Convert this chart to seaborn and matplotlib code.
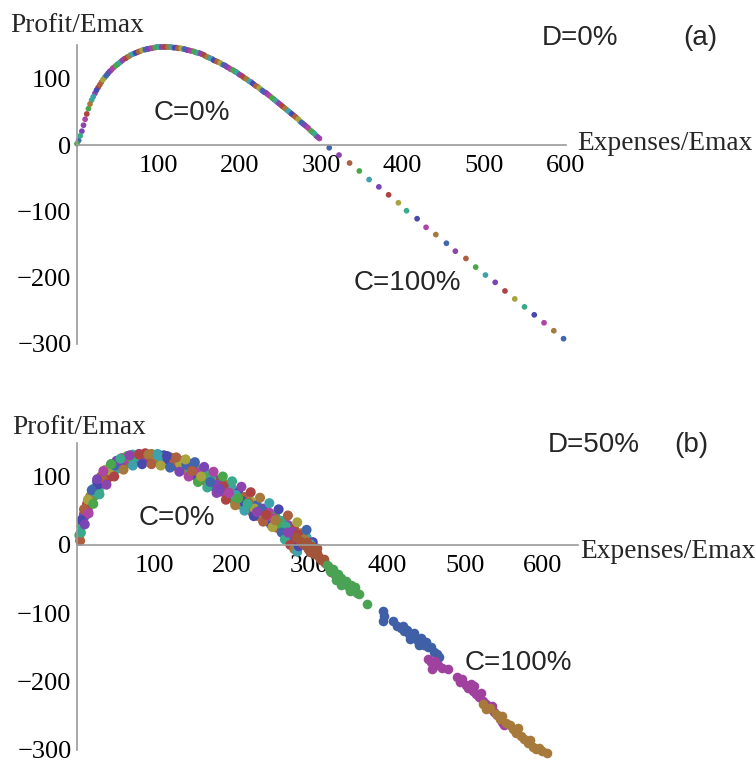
import numpy as np
import pandas as pd
import matplotlib
matplotlib.use('Agg')
import matplotlib.pyplot as plt
import seaborn as sns
from matplotlib.ticker import FixedLocator, MultipleLocator

# ---- panel (a): D=0%, one point per run ----
A_CURVE_X = [2, 6, 10, 14, 18, 22, 26, 30, 34, 38, 42, 46, 50, 54, 58, 62, 66, 70, 74, 78,
             82, 86, 90, 94, 98, 102, 106, 110, 114, 118, 122, 126, 130, 134, 138, 142, 146,
             150, 154, 158, 162, 166, 170, 174, 178, 182, 186, 190, 194, 198, 202, 206, 210,
             214, 218, 222, 226, 230, 234, 238, 242, 246, 250, 254, 258, 262, 266, 270, 274,
             278, 282, 286, 290, 294, 298,
             0, 4, 8, 12, 16, 20, 24, 28, 32, 36, 40, 44, 48, 52, 56, 60, 64, 68, 72, 76, 80,
             84, 88, 92, 96, 100, 104, 108, 112, 116, 120, 124, 128, 132, 136, 140, 144, 148,
             152, 156, 160, 164, 168, 172, 176, 180, 184, 188, 192, 196, 200, 204, 208, 212,
             216, 220, 224, 228, 232, 236, 240, 244, 248, 252, 256, 260, 264, 268, 272, 276,
             280, 284, 288, 292, 296]
A_CURVE_Y = [7, 21, 39, 55, 68, 78, 87, 95, 102, 108, 113, 118, 122, 126, 130, 133, 136, 138,
             140, 142, 144, 145, 146, 147, 148, 148, 148, 148, 148, 147, 147, 146, 145, 144,
             143, 142, 140, 139, 137, 134, 132, 130, 127, 125, 122, 120, 117, 114, 111, 108,
             105, 101, 98, 95, 91, 88, 84, 80, 77, 73, 69, 65, 61, 57, 53, 49, 45, 41, 36, 32,
             28, 23, 19, 14, 10,
             2, 14, 30, 47, 62, 73, 83, 91, 99, 105, 111, 116, 120, 124, 128, 131, 134, 137,
             139, 141, 143, 144, 145, 146, 147, 148, 148, 148, 148, 148, 147, 146, 146, 145,
             143, 142, 141, 139, 138, 136, 133, 131, 128, 126, 124, 121, 118, 115, 113, 110,
             106, 103, 100, 96, 93, 89, 86, 82, 79, 75, 71, 67, 63, 59, 55, 51, 47, 43, 39, 34,
             30, 26, 21, 17, 12]
A_TAIL_X = [310, 322, 335, 347, 359, 371, 383, 395, 405, 418, 429, 441, 454, 465, 478, 490,
            502, 514, 526, 538, 550, 562, 574, 586, 598]
A_TAIL_Y = [-4, -15, -27, -39, -52, -63, -75, -87, -99, -111, -124, -135, -148, -160, -171,
            -184, -196, -207, -220, -232, -244, -256, -268, -280, -292]

# ---- panel (b): D=50%, mixed cloud near the hump ----
B_MIX_X = [3, 6, 9, 13, 17, 21, 26, 31, 37, 44, 51, 58, 65, 72, 80, 88, 96, 104, 112, 120,
           128, 136, 144, 152, 160, 168, 176, 184, 192, 200, 208, 216, 224, 232, 240, 248,
           256, 264, 272, 280, 288, 296, 304,
           4, 7, 10, 14, 18, 23, 28, 34, 40, 47, 54, 61, 68, 75, 82, 90, 98, 106, 114, 122,
           130, 138, 146, 154, 162, 170, 178, 186, 194, 202, 210, 218, 226, 234, 242, 250,
           258, 266, 274, 282, 290, 298,
           5, 8, 12, 16, 22, 27, 33, 42, 49, 56, 63, 70, 78, 86, 94, 102, 109, 117, 125, 133,
           141, 149, 157, 165, 173, 181, 189, 197, 205, 213, 221, 229, 237, 245, 253, 261,
           269, 277, 285, 293, 301,
           6, 9, 14, 19, 26, 34, 44, 56, 68, 80, 92, 104, 116, 128, 140, 152, 164, 176, 188,
           200, 212, 224, 236, 248, 260, 272, 284, 296,
           10, 15, 21, 29, 38, 48, 60, 72, 84, 96, 108, 120, 132, 144, 156, 168, 180, 192,
           204, 216, 228, 240, 252, 264, 276, 288, 300,
           268, 272, 275, 280, 284, 286,
           148, 160, 172, 184, 196, 208, 220, 232, 244, 256]
B_MIX_Y = [14, 28, 45, 60, 71, 82, 92, 100, 110, 118, 123, 127, 130, 132, 133, 134, 133, 133,
           131, 128, 126, 123, 119, 115, 110, 104, 98, 93, 88, 82, 76, 70, 64, 58, 53, 47, 41,
           35, 29, 23, 17, 11, 4,
           6, 34, 42, 50, 62, 72, 80, 90, 98, 106, 112, 117, 120, 122, 123, 124, 123, 122, 120,
           118, 114, 110, 106, 100, 95, 89, 84, 78, 72, 66, 59, 54, 48, 42, 37, 30, 25, 19, 13,
           8, 2, -4,
           18, 40, 54, 66, 78, 88, 97, 109, 116, 122, 126, 128, 129, 128, 129, 128, 128, 125,
           124, 118, 117, 110, 106, 98, 96, 88, 86, 76, 73, 64, 62, 53, 51, 42, 39, 31, 27, 19,
           15, 8, 1,
           36, 52, 66, 80, 96, 108, 118, 126, 131, 132, 132, 131, 130, 128, 125, 121, 114, 107,
           100, 93, 85, 77, 69, 61, 52, 43, 33, 22,
           30, 46, 60, 74, 88, 100, 110, 116, 118, 118, 116, 113, 107, 100, 92, 84, 76, 66,
           58, 50, 42, 34, 26, 18, 10, 2, -8,
           8, 18, 0, -6, -10, -2,
           108, 100, 92, 82, 76, 68, 60, 48, 44, 36]

# ---- panel (b): clusters past break-even ----
B_BROWN_X = [282, 288, 292, 295, 298, 300, 304, 306, 309, 312, 315, 318, 320, 323, 326, 328,
             310, 302, 296]
B_BROWN_Y = [12, 6, 2, -2, -6, -10, -8, -14, -12, -18, -22, -20, -27, -31, -35, -40, -5, -2, 4]
B_GREEN_X = [322, 326, 330, 333, 336, 338, 341, 344, 347, 350, 353, 356, 358, 361, 352, 340,
             334, 364, 374]
B_GREEN_Y = [-30, -38, -36, -44, -42, -50, -48, -55, -53, -60, -58, -66, -62, -70, -68, -58,
             -52, -72, -87]
B_BLUE_X = [394, 396, 395, 408, 412, 418, 422, 426, 428, 432, 435, 438, 440, 443, 445, 448,
            450, 452, 456, 460, 464, 467, 430, 420, 441]
B_BLUE_Y = [-97, -104, -111, -112, -118, -122, -126, -124, -131, -133, -129, -137, -140, -136,
            -143, -146, -142, -150, -150, -156, -160, -164, -138, -119, -147]
B_MAGENTA_X = [452, 456, 461, 466, 458, 471, 479, 490, 494, 497, 501, 504, 508, 511, 514, 518,
               521, 524, 528, 531, 535, 538, 541, 545, 548, 550, 512]
B_MAGENTA_Y = [-167, -172, -170, -176, -182, -180, -181, -193, -200, -196, -205, -209, -204,
               -214, -218, -222, -217, -228, -233, -239, -236, -244, -249, -253, -259, -264,
               -207]
B_OCHRE_X = [524, 528, 533, 540, 545, 548, 553, 558, 562, 566, 569, 573, 577, 581, 584, 588,
             592, 596, 600, 606]
B_OCHRE_Y = [-232, -240, -238, -248, -255, -250, -260, -264, -270, -275, -268, -280, -284,
             -290, -286, -295, -299, -297, -302, -304]

X_TICKS = [100, 200, 300, 400, 500, 600]
Y_TICKS = [-300, -200, -100, 0, 100]

CYCLE = ['#4266ad', '#8b45ad', '#ad5f3f', '#4aa64a', '#3ea2ad', '#7a45b5', '#ad4343',
         '#a8a23f', '#3aa98c', '#4848ad', '#ad45a5', '#a67a3c']

W, H = 756, 762
SERIF = ['Liberation Serif', 'DejaVu Serif']
SANS = ['Liberation Sans', 'DejaVu Sans']

sns.set_theme(style='white')
plt.rcParams['font.family'] = SERIF


def fx(px):
    return px / W


def fy(py):
    return 1 - py / H


def style_axis(ax, xmax, ymax):
    ax.set_xlim(0, xmax)
    ax.set_ylim(-300, ymax)
    for s in ['top', 'right']:
        ax.spines[s].set_visible(False)
    ax.spines['bottom'].set_position(('data', 0))
    for s in ['bottom', 'left']:
        ax.spines[s].set_color('#9a9a9a')
        ax.spines[s].set_linewidth(1.2)
    ax.xaxis.set_major_locator(FixedLocator(X_TICKS))
    ax.yaxis.set_major_locator(FixedLocator(Y_TICKS))
    ax.xaxis.set_minor_locator(MultipleLocator(20))
    ax.yaxis.set_minor_locator(MultipleLocator(20))
    ax.tick_params(which='both', direction='in', color='#8a8a8a',
                   labelcolor='black', labelsize=19)
    ax.tick_params(which='major', length=5, width=1)
    ax.tick_params(which='minor', length=3, width=0.8)
    ax.tick_params(axis='x', pad=7)
    ax.tick_params(axis='y', pad=4)
    ax.set_xlabel('')
    ax.set_ylabel('')
    ax.patch.set_alpha(0)


def cycle_df(xs, ys, start=0, step=1):
    return pd.DataFrame({'x': xs, 'y': ys,
                         'c': [(i * step + start) % len(CYCLE) for i in range(len(xs))]})


fig = plt.figure(figsize=(W / 100, H / 100), dpi=100)

# panel (a)
ax1 = fig.add_axes([fx(77), fy(344), fx(566) - fx(77), fy(45) - fy(344)])
df_a = pd.concat([cycle_df(A_CURVE_X, A_CURVE_Y, step=5), cycle_df(A_TAIL_X, A_TAIL_Y)],
                 ignore_index=True)
sns.scatterplot(data=df_a, x='x', y='y', hue='c', palette=dict(enumerate(CYCLE)),
                s=17, linewidth=0, legend=False, ax=ax1)
style_axis(ax1, 601, 151)

# panel (b)
ax2 = fig.add_axes([fx(77), fy(750), fx(578) - fx(77), fy(443) - fy(750)])
df_b = cycle_df(B_MIX_X, B_MIX_Y, start=3, step=5)
sns.scatterplot(data=df_b, x='x', y='y', hue='c', palette=dict(enumerate(CYCLE)),
                s=52, linewidth=0, legend=False, ax=ax2)
clusters = [(B_BROWN_X, B_BROWN_Y, '#a3553a'), (B_GREEN_X, B_GREEN_Y, '#4aa354'),
            (B_BLUE_X, B_BLUE_Y, '#3f5fa6'), (B_MAGENTA_X, B_MAGENTA_Y, '#a0409f'),
            (B_OCHRE_X, B_OCHRE_Y, '#a7793a')]
for cx, cy, col in clusters:
    sns.scatterplot(x=cx, y=cy, color=col, s=48, linewidth=0, legend=False, ax=ax2)
style_axis(ax2, 646, 149)

for ax in (ax1, ax2):
    for c in ax.collections:
        c.set_clip_on(False)

# axis titles (serif) and annotations (sans)
fig.text(fx(10), fy(32), 'Profit/Emax', fontsize=19.7, family=SERIF, va='baseline')
fig.text(fx(577), fy(150), 'Expenses/Emax', fontsize=19.7, family=SERIF, va='baseline')
fig.text(fx(12), fy(434), 'Profit/Emax', fontsize=19.7, family=SERIF, va='baseline')
fig.text(fx(580), fy(558), 'Expenses/Emax', fontsize=19.7, family=SERIF, va='baseline')

notes = [(192, 120, 'C=0%'), (407, 290, 'C=100%'), (580, 45, 'D=0%'), (700, 45, '(a)'),
         (177, 525, 'C=0%'), (518, 670, 'C=100%'), (594, 452, 'D=50%'), (691, 452, '(b)')]
for px, py, t in notes:
    fig.text(fx(px), fy(py), t, fontsize=20, family=SANS, ha='center', va='baseline')

fig.savefig('out.png', dpi=100)
